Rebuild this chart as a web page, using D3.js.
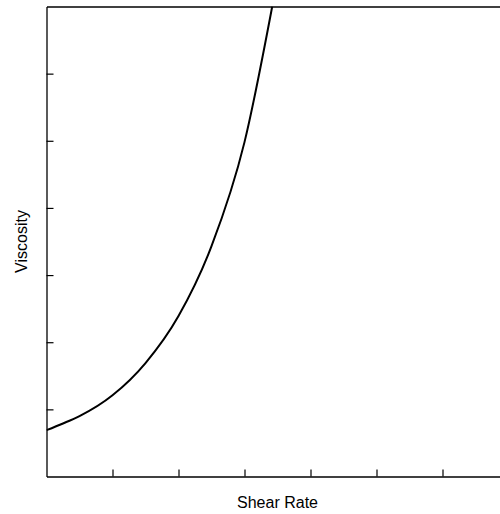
<!DOCTYPE html>
<html>
<head>
<meta charset="utf-8">
<script src="https://cdn.jsdelivr.net/npm/d3@7"></script>
<style>
  body { margin: 0; background: #fff; }
  text { font-family: "Liberation Sans", Arial, sans-serif; font-size: 16px; fill: #000; }
</style>
</head>
<body>
<div class="container"></div>
<script>
// values (axis units, ticks are unlabelled)
const shearRate = [0, 0.25, 0.5, 1.0, 1.5, 2.0, 2.5, 3.0, 3.42];
const viscosity = [0.69, 0.79, 0.90, 1.21, 1.69, 2.39, 3.43, 4.98, 7.0];
const xTicks = [1, 2, 3, 4, 5, 6, 7];
const yTicks = [1, 2, 3, 4, 5, 6];

const data = shearRate.map((x, i) => ({ x, y: viscosity[i] }));

const width = 500;
const height = 514;
const margin = { left: 46.5, top: 6.5 };
const plotW = 462;
const plotH = 470;

const xScale = d3.scaleLinear().domain([0, 7]).range([0, plotW]);
const yScale = d3.scaleLinear().domain([0, 7]).range([plotH, 0]);

const svg = d3
  .select(".container")
  .append("svg")
  .attr("width", width)
  .attr("height", height);

const g = svg.append("g").attr("transform", `translate(${margin.left},${margin.top})`);

g.append("clipPath")
  .attr("id", "clip")
  .append("rect")
  .attr("width", plotW)
  .attr("height", plotH);

const line = d3
  .line()
  .x(d => xScale(d.x))
  .y(d => yScale(d.y))
  .curve(d3.curveMonotoneX);

g.append("path")
  .datum(data)
  .attr("clip-path", "url(#clip)")
  .attr("d", line)
  .attr("fill", "none")
  .attr("stroke", "#000")
  .attr("stroke-width", 2);

const styleAxis = sel => {
  sel.selectAll("path.domain").attr("stroke", "#000").attr("stroke-width", 1.3);
  sel.selectAll(".tick line").attr("stroke", "#000").attr("stroke-width", 1.2);
  sel.selectAll(".tick text").remove();
};

g.append("g")
  .attr("transform", `translate(0,${plotH})`)
  .call(d3.axisBottom(xScale).tickValues(xTicks).tickSizeInner(-7).tickSizeOuter(0).tickFormat(""))
  .call(styleAxis);

g.append("g")
  .call(d3.axisLeft(yScale).tickValues(yTicks).tickSizeInner(-7).tickSizeOuter(0).tickFormat(""))
  .call(styleAxis);

g.append("g")
  .call(d3.axisTop(xScale).tickValues([]).tickSizeOuter(0))
  .call(styleAxis);

g.append("g")
  .attr("transform", `translate(${plotW},0)`)
  .call(d3.axisRight(yScale).tickValues([]).tickSizeOuter(0))
  .call(styleAxis);

svg.append("text")
  .attr("x", margin.left + plotW / 2)
  .attr("y", 508)
  .attr("text-anchor", "middle")
  .text("Shear Rate");

svg.append("text")
  .attr("transform", `translate(27,${margin.top + plotH / 2}) rotate(-90)`)
  .attr("text-anchor", "middle")
  .text("Viscosity");
</script>
</body>
</html>
